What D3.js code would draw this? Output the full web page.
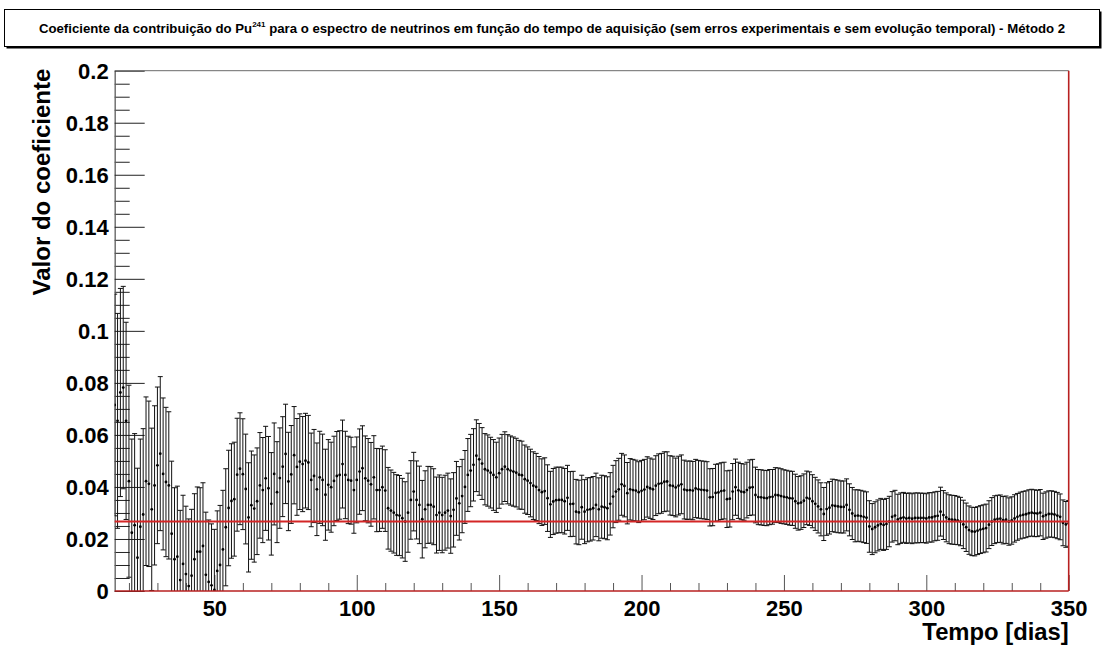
<!DOCTYPE html>
<html>
<head>
<meta charset="utf-8">
<script src="https://cdn.jsdelivr.net/npm/d3@7"></script>
<style>
  html, body { margin: 0; padding: 0; background: #fff; }
  svg { display: block; }
  text { font-family: "Liberation Sans", Arial, sans-serif; font-weight: bold; fill: #000; }
</style>
</head>
<body>
<script>
// Acquisition day of the first fitted point and of the last one
const firstDay = 15;
const lastDay = 350;

// Fitted Pu-241 coefficient, one value per acquisition day (15 ... 350)
const coefficient = [
  0.0715, 0.0654, 0.0763, 0.0782, 0.0654, 0.0422, 0.0224, 0.0253, 0.0128, 0.0247,
  0.0294, 0.0422, 0.0412, 0.0314, 0.0406, 0.0483, 0.0528, 0.0450, 0.0419, 0.0406,
  0.0220, 0.0122, 0.0132, 0.0042, 0.0104, 0.0065, 0.0019, 0.0059, 0.0122, 0.0151,
  0.0151, 0.0173, 0.0062, 0.0035, 0.0022, 0.0004, 0.0077, 0.0100, 0.0160, 0.0245,
  0.0319, 0.0346, 0.0353, 0.0447, 0.0470, 0.0449, 0.0392, 0.0283, 0.0330, 0.0317,
  0.0345, 0.0406, 0.0388, 0.0433, 0.0395, 0.0335, 0.0450, 0.0380, 0.0434, 0.0478,
  0.0527, 0.0421, 0.0448, 0.0522, 0.0477, 0.0497, 0.0488, 0.0501, 0.0494, 0.0427,
  0.0442, 0.0391, 0.0437, 0.0427, 0.0370, 0.0408, 0.0399, 0.0423, 0.0442, 0.0446,
  0.0488, 0.0446, 0.0427, 0.0424, 0.0388, 0.0427, 0.0459, 0.0472, 0.0433, 0.0424,
  0.0410, 0.0437, 0.0388, 0.0388, 0.0399, 0.0386, 0.0318, 0.0309, 0.0301, 0.0292,
  0.0290, 0.0280, 0.0267, 0.0301, 0.0350, 0.0382, 0.0350, 0.0331, 0.0276, 0.0314,
  0.0331, 0.0331, 0.0324, 0.0292, 0.0301, 0.0292, 0.0301, 0.0309, 0.0288, 0.0312,
  0.0356, 0.0337, 0.0365, 0.0400, 0.0446, 0.0463, 0.0485, 0.0520, 0.0506, 0.0490,
  0.0468, 0.0463, 0.0455, 0.0446, 0.0437, 0.0453, 0.0468, 0.0478, 0.0468, 0.0463,
  0.0459, 0.0455, 0.0447, 0.0445, 0.0430, 0.0424, 0.0415, 0.0405, 0.0400, 0.0388,
  0.0380, 0.0384, 0.0357, 0.0333, 0.0344, 0.0349, 0.0350, 0.0350, 0.0345, 0.0358,
  0.0334, 0.0335, 0.0305, 0.0302, 0.0322, 0.0305, 0.0312, 0.0314, 0.0318, 0.0331,
  0.0314, 0.0324, 0.0322, 0.0318, 0.0335, 0.0363, 0.0382, 0.0391, 0.0410, 0.0404,
  0.0376, 0.0391, 0.0388, 0.0386, 0.0380, 0.0385, 0.0390, 0.0400, 0.0395, 0.0391,
  0.0405, 0.0412, 0.0414, 0.0420, 0.0421, 0.0406, 0.0404, 0.0398, 0.0405, 0.0410,
  0.0390, 0.0387, 0.0388, 0.0386, 0.0394, 0.0391, 0.0389, 0.0388, 0.0386, 0.0360,
  0.0361, 0.0377, 0.0379, 0.0384, 0.0386, 0.0353, 0.0355, 0.0382, 0.0399, 0.0387,
  0.0382, 0.0380, 0.0388, 0.0397, 0.0399, 0.0369, 0.0361, 0.0360, 0.0358, 0.0357,
  0.0361, 0.0362, 0.0369, 0.0368, 0.0365, 0.0362, 0.0360, 0.0357, 0.0356, 0.0345,
  0.0337, 0.0340, 0.0347, 0.0358, 0.0355, 0.0345, 0.0335, 0.0325, 0.0314, 0.0296,
  0.0315, 0.0320, 0.0329, 0.0327, 0.0325, 0.0323, 0.0323, 0.0331, 0.0312, 0.0298,
  0.0289, 0.0290, 0.0288, 0.0285, 0.0282, 0.0248, 0.0238, 0.0245, 0.0252, 0.0258,
  0.0254, 0.0258, 0.0267, 0.0285, 0.0290, 0.0275, 0.0280, 0.0283, 0.0279, 0.0281,
  0.0278, 0.0281, 0.0281, 0.0281, 0.0281, 0.0279, 0.0283, 0.0283, 0.0287, 0.0289,
  0.0305, 0.0292, 0.0283, 0.0276, 0.0274, 0.0273, 0.0271, 0.0267, 0.0256, 0.0245,
  0.0234, 0.0229, 0.0228, 0.0232, 0.0236, 0.0239, 0.0242, 0.0255, 0.0267, 0.0274,
  0.0277, 0.0278, 0.0272, 0.0274, 0.0267, 0.0271, 0.0279, 0.0285, 0.0290, 0.0293,
  0.0295, 0.0299, 0.0301, 0.0299, 0.0298, 0.0301, 0.0287, 0.0292, 0.0296, 0.0296,
  0.0294, 0.0290, 0.0285, 0.0262, 0.0256, 0.0260
];

// Statistical uncertainty of each fitted value (same days)
const uncertainty = [
  0.0426, 0.0413, 0.0400, 0.0389, 0.0379, 0.0369, 0.0360, 0.0352, 0.0344, 0.0337,
  0.0330, 0.0324, 0.0318, 0.0312, 0.0306, 0.0301, 0.0296, 0.0292, 0.0287, 0.0283,
  0.0279, 0.0275, 0.0271, 0.0268, 0.0264, 0.0261, 0.0258, 0.0255, 0.0252, 0.0249,
  0.0246, 0.0243, 0.0241, 0.0238, 0.0236, 0.0233, 0.0231, 0.0229, 0.0227, 0.0225,
  0.0222, 0.0220, 0.0219, 0.0217, 0.0215, 0.0213, 0.0211, 0.0210, 0.0208, 0.0206,
  0.0205, 0.0203, 0.0202, 0.0200, 0.0199, 0.0197, 0.0196, 0.0194, 0.0193, 0.0192,
  0.0191, 0.0189, 0.0188, 0.0187, 0.0186, 0.0184, 0.0183, 0.0182, 0.0181, 0.0180,
  0.0179, 0.0178, 0.0177, 0.0176, 0.0175, 0.0174, 0.0173, 0.0172, 0.0171, 0.0170,
  0.0169, 0.0168, 0.0168, 0.0167, 0.0166, 0.0165, 0.0164, 0.0163, 0.0163, 0.0162,
  0.0161, 0.0160, 0.0160, 0.0159, 0.0158, 0.0157, 0.0157, 0.0156, 0.0155, 0.0155,
  0.0154, 0.0153, 0.0153, 0.0152, 0.0151, 0.0151, 0.0150, 0.0149, 0.0149, 0.0148,
  0.0148, 0.0147, 0.0146, 0.0146, 0.0145, 0.0145, 0.0144, 0.0144, 0.0143, 0.0143,
  0.0142, 0.0141, 0.0141, 0.0140, 0.0140, 0.0139, 0.0139, 0.0138, 0.0138, 0.0138,
  0.0137, 0.0137, 0.0136, 0.0136, 0.0135, 0.0135, 0.0134, 0.0134, 0.0133, 0.0133,
  0.0133, 0.0132, 0.0132, 0.0131, 0.0131, 0.0130, 0.0130, 0.0130, 0.0129, 0.0129,
  0.0128, 0.0128, 0.0128, 0.0127, 0.0127, 0.0127, 0.0126, 0.0126, 0.0126, 0.0125,
  0.0125, 0.0125, 0.0124, 0.0124, 0.0123, 0.0123, 0.0123, 0.0122, 0.0122, 0.0122,
  0.0121, 0.0121, 0.0121, 0.0121, 0.0120, 0.0120, 0.0119, 0.0119, 0.0119, 0.0119,
  0.0118, 0.0118, 0.0118, 0.0117, 0.0117, 0.0117, 0.0116, 0.0116, 0.0116, 0.0116,
  0.0115, 0.0115, 0.0115, 0.0115, 0.0114, 0.0114, 0.0114, 0.0113, 0.0113, 0.0113,
  0.0113, 0.0112, 0.0112, 0.0112, 0.0112, 0.0111, 0.0111, 0.0111, 0.0111, 0.0110,
  0.0110, 0.0110, 0.0110, 0.0109, 0.0109, 0.0109, 0.0109, 0.0108, 0.0108, 0.0108,
  0.0108, 0.0108, 0.0107, 0.0107, 0.0107, 0.0107, 0.0106, 0.0106, 0.0106, 0.0106,
  0.0106, 0.0105, 0.0105, 0.0105, 0.0105, 0.0104, 0.0104, 0.0104, 0.0104, 0.0104,
  0.0103, 0.0103, 0.0103, 0.0103, 0.0103, 0.0102, 0.0102, 0.0102, 0.0102, 0.0102,
  0.0101, 0.0101, 0.0101, 0.0101, 0.0101, 0.0100, 0.0100, 0.0100, 0.0100, 0.0100,
  0.0100, 0.0099, 0.0099, 0.0099, 0.0099, 0.0099, 0.0098, 0.0098, 0.0098, 0.0098,
  0.0098, 0.0098, 0.0097, 0.0097, 0.0097, 0.0097, 0.0097, 0.0096, 0.0096, 0.0096,
  0.0096, 0.0096, 0.0096, 0.0095, 0.0095, 0.0095, 0.0095, 0.0095, 0.0094, 0.0094,
  0.0094, 0.0094, 0.0094, 0.0094, 0.0094, 0.0094, 0.0093, 0.0093, 0.0093, 0.0093,
  0.0093, 0.0093, 0.0093, 0.0092, 0.0092, 0.0092, 0.0092, 0.0092, 0.0092, 0.0092,
  0.0091, 0.0091, 0.0091, 0.0091, 0.0091, 0.0091, 0.0091, 0.0090, 0.0090, 0.0090,
  0.0090, 0.0090, 0.0090, 0.0090, 0.0089, 0.0089, 0.0089, 0.0089, 0.0089, 0.0089,
  0.0089, 0.0089, 0.0088, 0.0088, 0.0088, 0.0088
];

// Constant reference value drawn as the red horizontal line
const referenceValue = [0.0267];

// Axis ticks and labels
const xMajorTicks = [50, 100, 150, 200, 250, 300, 350];
const xMinorTicks = [20, 30, 40, 60, 70, 80, 90, 110, 120, 130, 140, 160, 170, 180, 190,
                     210, 220, 230, 240, 260, 270, 280, 290, 310, 320, 330, 340];
const yMajorTicks = [0, 0.02, 0.04, 0.06, 0.08, 0.1, 0.12, 0.14, 0.16, 0.18, 0.2];
const yMinorTicks = [0.005, 0.01, 0.015, 0.025, 0.03, 0.035, 0.045, 0.05, 0.055, 0.065, 0.07, 0.075,
                     0.085, 0.09, 0.095, 0.105, 0.11, 0.115, 0.125, 0.13, 0.135, 0.145, 0.15, 0.155,
                     0.165, 0.17, 0.175, 0.185, 0.19, 0.195];

const titleBefore = "Coeficiente da contribuição do Pu";
const titleSup = "241";
const titleAfter = " para o espectro de neutrinos em função do tempo de aquisição (sem erros experimentais e sem evolução temporal) - Método 2";
const xTitle = "Tempo [dias]";
const yTitle = "Valor do coeficiente";

const W = 1105, H = 646;
const plot = { left: 114.7, right: 1068.7, top: 70.7, bottom: 591 };

const days = d3.range(firstDay, lastDay + 1);
const points = days.map((d, i) => ({ day: d, value: coefficient[i], err: uncertainty[i] }));

const x = d3.scaleLinear().domain([firstDay, lastDay]).range([plot.left, plot.right]);
const y = d3.scaleLinear().domain([0, 0.2]).range([plot.bottom, plot.top]);

const svg = d3.select("body").append("svg")
  .attr("width", W).attr("height", H)
  .attr("viewBox", `0 0 ${W} ${H}`);

svg.append("rect").attr("width", W).attr("height", H).attr("fill", "#fff");

// Title pave with drop shadow
svg.append("rect")
  .attr("x", 6.5).attr("y", 11.5).attr("width", 1095).attr("height", 37)
  .attr("fill", "#000");
svg.append("rect")
  .attr("x", 4.5).attr("y", 9.5).attr("width", 1095).attr("height", 37)
  .attr("fill", "#fff").attr("stroke", "#000").attr("stroke-width", 1);

const title = svg.append("text")
  .attr("x", 552).attr("y", 33)
  .attr("text-anchor", "middle")
  .style("font-size", "13.2px");
title.append("tspan").text(titleBefore);
title.append("tspan").attr("dy", -6).style("font-size", "8px").text(titleSup);
title.append("tspan").attr("dy", 6).text(titleAfter);

// Clip region for the data
svg.append("clipPath").attr("id", "plot-clip")
  .append("rect")
  .attr("x", plot.left).attr("y", plot.top)
  .attr("width", plot.right - plot.left).attr("height", plot.bottom - plot.top);

// Y axis (ticks pointing into the frame)
const yMinorAxis = d3.axisLeft(y).tickValues(yMinorTicks).tickSize(-15).tickSizeOuter(0).tickFormat("");
const yMajorAxis = d3.axisLeft(y).tickValues(yMajorTicks).tickSize(-30).tickSizeOuter(0)
  .tickPadding(6)
  .tickFormat(d => d === 0 ? "0" : String(+d.toFixed(2)));

const gyMinor = svg.append("g").attr("transform", `translate(${plot.left},0)`).call(yMinorAxis);
const gyMajor = svg.append("g").attr("transform", `translate(${plot.left},0)`).call(yMajorAxis);
[gyMinor, gyMajor].forEach(g => {
  g.select(".domain").attr("stroke", "#6a6a6a");
  g.selectAll(".tick line").attr("stroke", "#222");
});
gyMajor.selectAll(".tick text")
  .attr("font-family", null).attr("font-size", null)
  .style("font-size", "22px").attr("dy", "0.36em");

// X axis
const xMinorAxis = d3.axisBottom(x).tickValues(xMinorTicks).tickSize(-8).tickSizeOuter(0).tickFormat("");
const xMajorAxis = d3.axisBottom(x).tickValues(xMajorTicks).tickSize(-16).tickSizeOuter(0).tickFormat(d3.format("d"));
const gxMinor = svg.append("g").attr("transform", `translate(0,${plot.bottom})`).call(xMinorAxis);
const gxMajor = svg.append("g").attr("transform", `translate(0,${plot.bottom})`).call(xMajorAxis);
[gxMinor, gxMajor].forEach(g => {
  g.select(".domain").remove();
  g.selectAll(".tick line").attr("stroke", "#555");
});
gxMajor.selectAll(".tick text")
  .attr("font-family", null).attr("font-size", null)
  .style("font-size", "22px").attr("y", 25).attr("dy", 0);

// Frame: top edge grey, bottom and right edges red
svg.append("line")
  .attr("x1", plot.left).attr("x2", plot.right).attr("y1", plot.top).attr("y2", plot.top)
  .attr("stroke", "#6a6a6a").attr("stroke-width", 1);

// Data: error bars and markers
const data = svg.append("g").attr("clip-path", "url(#plot-clip)");
const bars = data.append("g").attr("stroke", "#111").attr("stroke-width", 1);

bars.selectAll("line.err")
  .data(points).join("line").attr("class", "err")
  .attr("x1", d => x(d.day)).attr("x2", d => x(d.day))
  .attr("y1", d => y(d.value - d.err)).attr("y2", d => y(d.value + d.err));

bars.selectAll("line.cap-hi")
  .data(points).join("line").attr("class", "cap-hi")
  .attr("x1", d => x(d.day) - 2.5).attr("x2", d => x(d.day) + 2.5)
  .attr("y1", d => y(d.value + d.err)).attr("y2", d => y(d.value + d.err));

bars.selectAll("line.cap-lo")
  .data(points).join("line").attr("class", "cap-lo")
  .attr("x1", d => x(d.day) - 2.5).attr("x2", d => x(d.day) + 2.5)
  .attr("y1", d => y(d.value - d.err)).attr("y2", d => y(d.value - d.err));

data.append("g").attr("fill", "#000")
  .selectAll("circle")
  .data(points).join("circle")
  .attr("cx", d => x(d.day)).attr("cy", d => y(d.value)).attr("r", 1.4);

// Reference level
svg.append("g").selectAll("line.ref")
  .data(referenceValue).join("line").attr("class", "ref")
  .attr("x1", plot.left).attr("x2", plot.right)
  .attr("y1", d => y(d)).attr("y2", d => y(d))
  .attr("stroke", "#d42626").attr("stroke-width", 2);

svg.append("line")
  .attr("x1", plot.left).attr("x2", plot.right).attr("y1", plot.bottom).attr("y2", plot.bottom)
  .attr("stroke", "#b82020").attr("stroke-width", 1.6);
svg.append("line")
  .attr("x1", plot.right).attr("x2", plot.right).attr("y1", plot.top).attr("y2", plot.bottom)
  .attr("stroke", "#b82020").attr("stroke-width", 1.6);

// Axis titles
svg.append("text")
  .attr("x", plot.right).attr("y", 640)
  .attr("text-anchor", "end")
  .style("font-size", "23.8px")
  .text(xTitle);

svg.append("text")
  .attr("transform", `translate(50,${plot.top - 2}) rotate(-90)`)
  .attr("text-anchor", "end")
  .style("font-size", "24px")
  .text(yTitle);
</script>
</body>
</html>
